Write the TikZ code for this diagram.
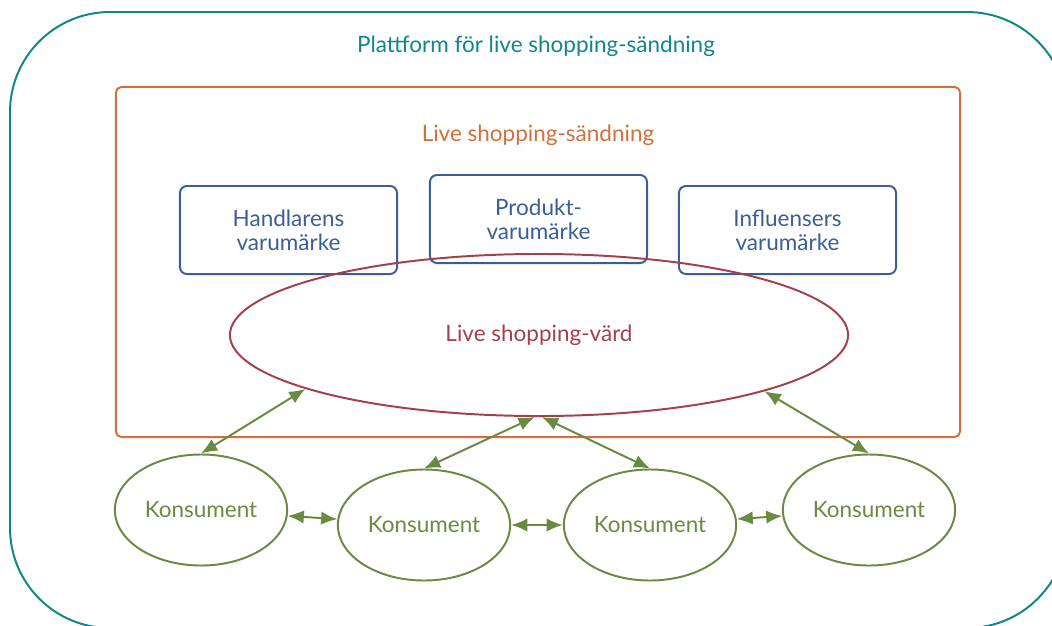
\documentclass[tikz,border=0pt]{standalone}
\usepackage{fontspec}
\setmainfont{Lato}
\usetikzlibrary{shapes.geometric,arrows.meta,positioning}

\definecolor{teal}{RGB}{16,134,138}
\definecolor{orng}{RGB}{208,112,60}
\definecolor{blu}{RGB}{58,94,150}
\definecolor{wine}{RGB}{164,64,76}
\definecolor{grn}{RGB}{106,138,66}

\begin{document}
\begin{tikzpicture}[x=0.025cm, y=-0.025cm, font=\fontsize{16}{17}\selectfont, line width=1.4pt, >={Latex[length=11.5pt,width=9.5pt]},
    brand/.style = {draw=blu, text=blu, rounded corners=5pt, align=center, minimum width=5.425cm, minimum height=2.2cm},
    kons/.style = {draw=grn, text=grn, ellipse, minimum width=4.275cm, minimum height=2.775cm},
    link/.style = {<->, draw=grn}]
    \clip (0,0) rectangle (1052,625);
    % outer platform frame, runs off the page on the right and bottom
    \draw[teal, rounded corners=2.5cm] (10,12) rectangle (1067,628);
    \node[text=teal] (ptitle) at (536,46) {Plattform för live shopping-sändning};
    % broadcast box
    \node[draw=orng, rounded corners=4pt, minimum width=21.1cm, minimum height=8.75cm] (send) at (538,262) {};
    \node[text=orng] (sendtitle) at (538,135) {Live shopping-sändning};
    \node[brand] (b1) at (288.5,230) {Handlarens\\varumärke};
    \node[brand] (b2) at (538.5,219) {Produkt-\\varumärke};
    \node[brand] (b3) at (787.5,230) {Influensers\\varumärke};
    \node[draw=wine, text=wine, ellipse, minimum width=15.45cm, minimum height=4.05cm] (host) at (539,335) {Live shopping-värd};
    % consumers
    \node[kons] (k1) at (201,510) {Konsument};
    \node[kons] (k2) at (424,525) {Konsument};
    \node[kons] (k3) at (650,525) {Konsument};
    \node[kons] (k4) at (869,510) {Konsument};
    \draw[link] (k1.north) -- (host.193);
    \draw[link] (k2.north) -- (host.267);
    \draw[link] (k3.north) -- (host.272);
    \draw[link] (k4.north) -- (host.346);
    \draw[link] (k1) -- (k2);
    \draw[link] (k2) -- (k3);
    \draw[link] (k3) -- (k4);
\end{tikzpicture}
\end{document}
